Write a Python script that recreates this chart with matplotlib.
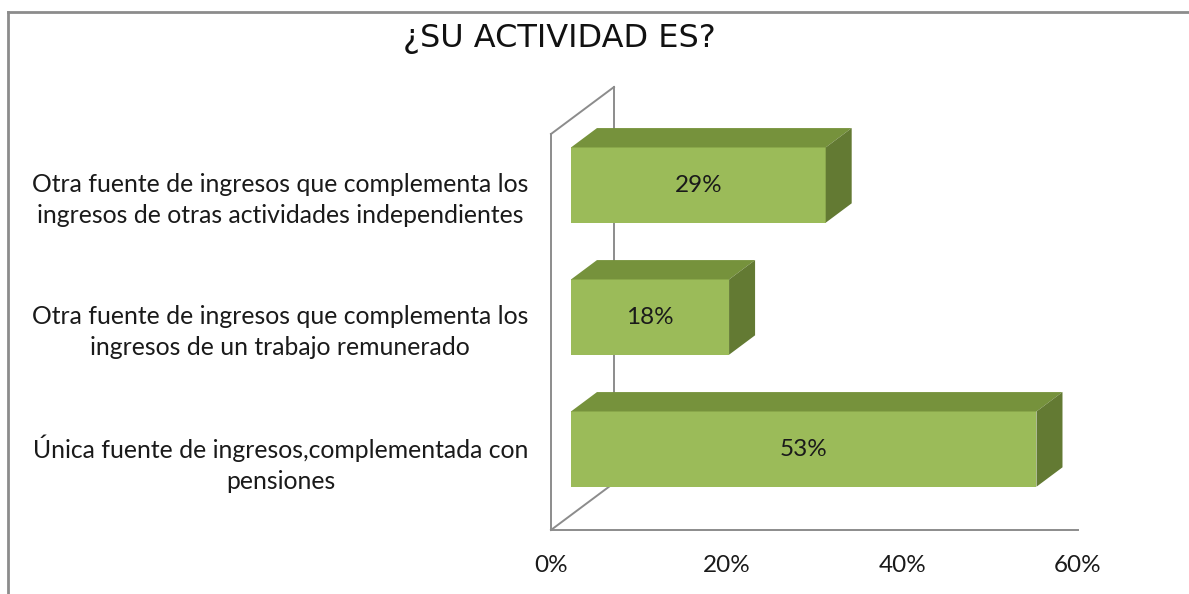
"""3D-style horizontal bar chart: ¿SU ACTIVIDAD ES?"""

import matplotlib
matplotlib.use("Agg")
import matplotlib.pyplot as plt
from matplotlib.patches import Polygon
from matplotlib.lines import Line2D

categories = [
    "Única fuente de ingresos,complementada con\npensiones",
    "Otra fuente de ingresos que complementa los\ningresos de un trabajo remunerado",
    "Otra fuente de ingresos que complementa los\ningresos de otras actividades independientes",
]
values = [53, 18, 29]
value_labels = ["53%", "18%", "29%"]
xticks = [0, 20, 40, 60]
xtick_labels = ["0%", "20%", "40%", "60%"]
title = "¿SU ACTIVIDAD ES?"

FRONT = "#9BBB59"
TOP = "#76923C"
SIDE = "#637A33"
WALL = "#8C8C8C"
FONT = ["Lato", "DejaVu Sans"]

# oblique depth of the chart box, in data units
DEPTH_X = 7.17
DEPTH_Y = 0.356
F0, F1 = 0.317, 0.73   # bar front / back as fraction of depth
BAR_H = 0.57

fig = plt.figure(figsize=(11.89, 5.94), dpi=100)
ax = fig.add_axes([551 / 1189, 64 / 594, 527 / 1189, 396 / 594])
ax.set_xlim(0, 60)
ax.set_ylim(0, 3)
for s in ax.spines.values():
    s.set_visible(False)
ax.set_yticks([])
ax.set_xticks(xticks)
ax.set_xticklabels(xtick_labels, fontsize=17.5, family=FONT, color="#1a1a1a")
ax.tick_params(axis="x", length=0, pad=18)

n = len(categories)
lw = 1.4
# walls
wall = dict(color=WALL, lw=lw, clip_on=False, zorder=1)
ax.plot([0, 0], [0, n], **wall)
ax.plot([0, DEPTH_X], [n, n + DEPTH_Y], **wall)
ax.plot([DEPTH_X, DEPTH_X], [DEPTH_Y, n + DEPTH_Y], **wall)
ax.plot([0, DEPTH_X], [0, DEPTH_Y], **wall)
ax.plot([0, xticks[-1]], [0, 0], **wall)

ddx = (F1 - F0) * DEPTH_X
ddy = (F1 - F0) * DEPTH_Y
for i, (v, lab) in enumerate(zip(values, value_labels)):
    x0 = F0 * DEPTH_X
    yc = i + 0.5 + F0 * DEPTH_Y
    yb, yt = yc - BAR_H / 2, yc + BAR_H / 2
    ax.barh(yc, v, left=x0, height=BAR_H, color=FRONT, edgecolor="none",
            zorder=3, clip_on=False)
    top = [(x0, yt), (x0 + v, yt), (x0 + v + ddx, yt + ddy), (x0 + ddx, yt + ddy)]
    side = [(x0 + v, yb), (x0 + v, yt), (x0 + v + ddx, yt + ddy), (x0 + v + ddx, yb + ddy)]
    ax.add_patch(Polygon(top, closed=True, fc=TOP, ec="none", zorder=3, clip_on=False))
    ax.add_patch(Polygon(side, closed=True, fc=SIDE, ec="none", zorder=3, clip_on=False))
    ax.text(x0 + v / 2, yc, lab, ha="center", va="center", fontsize=17.5,
            family=FONT, color="#1a1a1a", zorder=4)

for i, cat in enumerate(categories):
    ax.text(-2.6, i + 0.5, cat, ha="right", va="center", multialignment="center",
            fontsize=17.8, family=FONT, color="#1a1a1a", linespacing=1.4)

fig.text(559 / 1189, 1 - 38 / 594, title, ha="center", va="center", fontsize=23,
         family=["DejaVu Sans"], color="#111111")

# outer chart border (top and left only visible)
fig.add_artist(Line2D([8 / 1189, 1], [1 - 12 / 594, 1 - 12 / 594], color=WALL, lw=2))
fig.add_artist(Line2D([8 / 1189, 8 / 1189], [0, 1 - 12 / 594], color=WALL, lw=2))

fig.savefig("out.png", dpi=100)
